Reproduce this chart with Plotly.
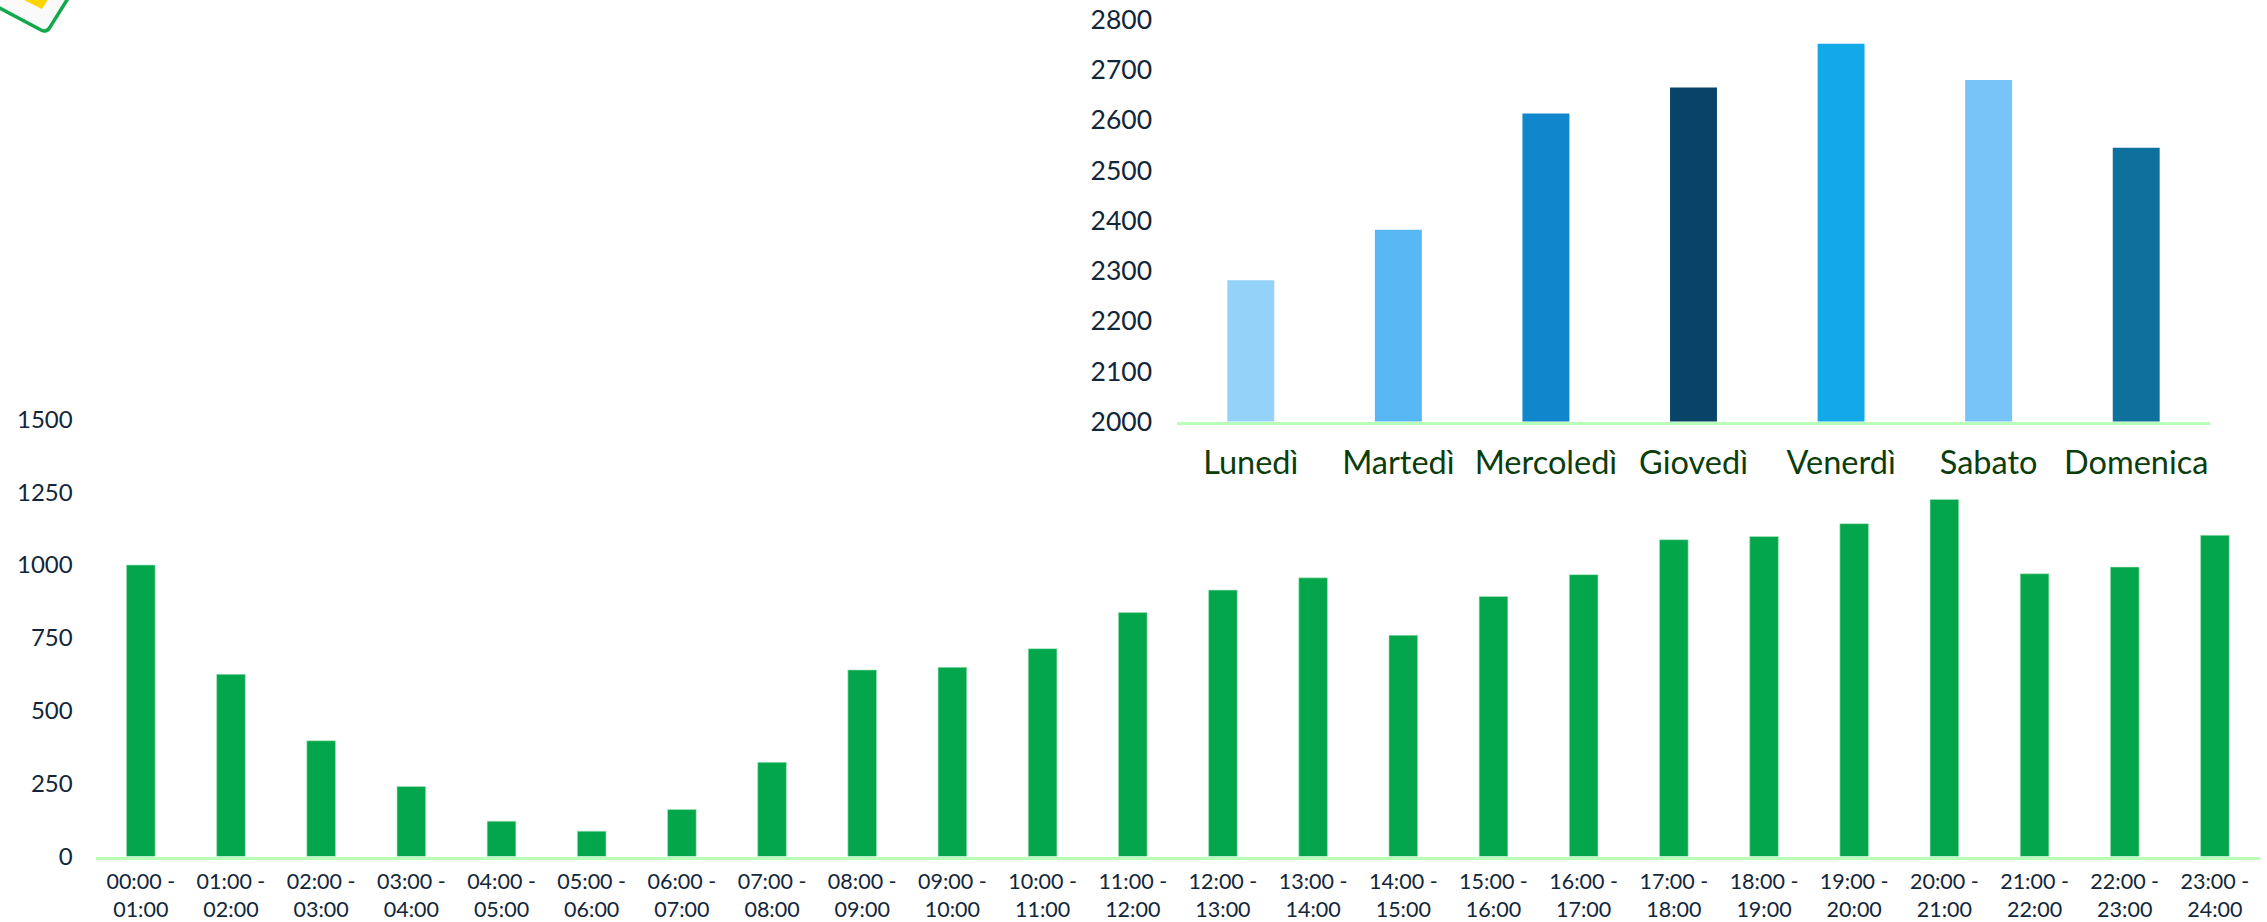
import plotly.graph_objects as go

W, H = 2267, 922

hour_labels = ["00:00 -<br>01:00", "01:00 -<br>02:00", "02:00 -<br>03:00", "03:00 -<br>04:00",
               "04:00 -<br>05:00", "05:00 -<br>06:00", "06:00 -<br>07:00", "07:00 -<br>08:00",
               "08:00 -<br>09:00", "09:00 -<br>10:00", "10:00 -<br>11:00", "11:00 -<br>12:00",
               "12:00 -<br>13:00", "13:00 -<br>14:00", "14:00 -<br>15:00", "15:00 -<br>16:00",
               "16:00 -<br>17:00", "17:00 -<br>18:00", "18:00 -<br>19:00", "19:00 -<br>20:00",
               "20:00 -<br>21:00", "21:00 -<br>22:00", "22:00 -<br>23:00", "23:00 -<br>24:00"]
hour_values = [1000, 625, 397, 240, 121, 87, 161, 323, 640, 649, 713, 837,
               914, 956, 759, 892, 967, 1087, 1098, 1142, 1225, 970, 993, 1102]
hour_ticks = [0, 250, 500, 750, 1000, 1250, 1500]

days = ["Lunedì", "Martedì", "Mercoledì", "Giovedì", "Venerdì", "Sabato", "Domenica"]
day_values = [2281, 2382, 2613, 2665, 2752, 2680, 2545]
day_colors = ["#94D2F9", "#58B8F3", "#1087CC", "#074467", "#13A9E9", "#78C4F8", "#0E709C"]
day_ticks = [2000, 2100, 2200, 2300, 2400, 2500, 2600, 2700, 2800]

GREEN = "#04A64B"
AXIS = "#B8FDB8"
INK = "#12263A"
DARKGREEN = "#0B3D0B"
FONT = "Lato"


def px(x):
    return x / W


def py(y):
    return 1 - y / H


def path(points):
    out = []
    for cmd, *c in points:
        out.append(cmd + " " + " ".join(f"{v:.5f}" for v in c))
    return " ".join(out)


fig = go.Figure()
fig.add_trace(go.Bar(x=hour_labels, y=hour_values, xaxis="x", yaxis="y",
                     marker=dict(color=GREEN, line=dict(color="#A9E8C0", width=0.6)),
                     width=0.318, showlegend=False))
fig.add_trace(go.Bar(x=days, y=day_values, xaxis="x2", yaxis="y2",
                     marker=dict(color=day_colors, line=dict(width=0)),
                     width=0.318, showlegend=False))

fig.update_layout(
    width=W, height=H, autosize=False,
    margin=dict(l=0, r=0, t=0, b=0, pad=0),
    paper_bgcolor="white", plot_bgcolor="rgba(0,0,0,0)",
    font=dict(family=FONT, color=INK),
    xaxis=dict(domain=[px(95.7), px(2260)], anchor="y", type="category", showgrid=False, automargin=False,
               showline=True, linecolor=AXIS, linewidth=2.5, ticks="", ticklabelstandoff=4,
               tickfont=dict(family=FONT, size=21.5, color=INK), tickangle=0),
    yaxis=dict(domain=[py(856.5), py(419.3)], anchor="x", range=[0, 1500], tickvals=hour_ticks, automargin=False,
               showgrid=False, zeroline=False, showline=False, ticks="", ticklabelstandoff=22,
               tickfont=dict(family=FONT, size=24, color=INK)),
    xaxis2=dict(domain=[px(1177), px(2210)], anchor="y2", type="category", showgrid=False, automargin=False,
                showline=True, linecolor=AXIS, linewidth=2.5, ticks="", ticklabelstandoff=11,
                tickfont=dict(family=FONT, size=32.5, color=DARKGREEN), tickangle=0),
    yaxis2=dict(domain=[py(421.5), py(19.7)], anchor="x2", range=[2000, 2800], tickvals=day_ticks, automargin=False,
                showgrid=False, zeroline=False, showline=False, ticks="", ticklabelstandoff=24,
                tickfont=dict(family=FONT, size=26.5, color=INK)),
    shapes=[
        dict(type="path", xref="paper", yref="paper", layer="above",
             fillcolor="#FAFAFA", line=dict(color="#12A84E", width=3.5),
             path=path([("M", px(-10), py(3)), ("L", px(41), py(30)),
                        ("Q", px(47), py(33), px(50), py(27)),
                        ("L", px(72), py(-8)), ("L", px(-10), py(-8)), ("Z",)])),
        dict(type="path", xref="paper", yref="paper", layer="above",
             fillcolor="#FFD400", line=dict(width=0),
             path=path([("M", px(20), py(-2)), ("L", px(42), py(9)), ("L", px(49), py(-2)), ("Z",)])),
    ],
)

fig.write_html("out.html", config={"displayModeBar": False}, post_script="document.body.style.margin='0';")
